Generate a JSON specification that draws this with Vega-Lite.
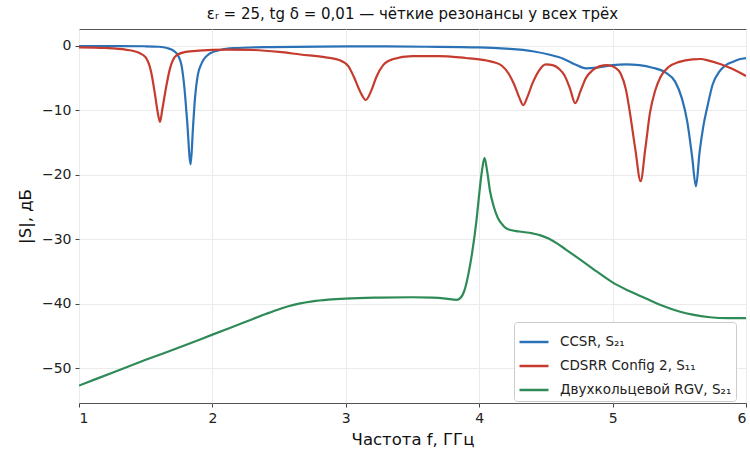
{
  "$schema": "https://vega.github.io/schema/vega-lite/v6.json",
  "width": 667,
  "height": 374,
  "autosize": {"type": "none"},
  "padding": {"left": 79, "top": 29, "right": 4, "bottom": 49},
  "background": "white",
  "title": {"text": "εᵣ = 25, tg δ = 0,01 — чёткие резонансы у всех трёх", "font": "DejaVu Sans", "fontSize": 15, "fontWeight": "normal", "color": "#111", "anchor": "middle", "offset": 7},
  "config": {
    "font": "DejaVu Sans",
    "view": {"stroke": "#555", "strokeWidth": 1},
    "axis": {"domain": false, "grid": true, "gridColor": "#ebebeb", "gridWidth": 1, "tickColor": "#444", "tickSize": 4, "labelFont": "DejaVu Sans", "labelFontSize": 14, "labelColor": "#222", "titleFont": "DejaVu Sans", "titleFontSize": 16.5, "titleFontWeight": "normal", "titleColor": "#111", "labelPadding": 4}
  },
  "data": {"values": [
    {"f": 1.0, "db": -0.05, "s": "CCSR, S₂₁"},
    {"f": 1.3, "db": -0.05, "s": "CCSR, S₂₁"},
    {"f": 1.5, "db": -0.08, "s": "CCSR, S₂₁"},
    {"f": 1.6, "db": -0.15, "s": "CCSR, S₂₁"},
    {"f": 1.66, "db": -0.35, "s": "CCSR, S₂₁"},
    {"f": 1.71, "db": -0.8, "s": "CCSR, S₂₁"},
    {"f": 1.745, "db": -1.6, "s": "CCSR, S₂₁"},
    {"f": 1.77, "db": -3.2, "s": "CCSR, S₂₁"},
    {"f": 1.79, "db": -6.5, "s": "CCSR, S₂₁"},
    {"f": 1.81, "db": -11.5, "s": "CCSR, S₂₁"},
    {"f": 1.837, "db": -18.4, "s": "CCSR, S₂₁"},
    {"f": 1.855, "db": -12.5, "s": "CCSR, S₂₁"},
    {"f": 1.87, "db": -8, "s": "CCSR, S₂₁"},
    {"f": 1.89, "db": -4.6, "s": "CCSR, S₂₁"},
    {"f": 1.92, "db": -2.7, "s": "CCSR, S₂₁"},
    {"f": 1.98, "db": -1.2, "s": "CCSR, S₂₁"},
    {"f": 2.06, "db": -0.65, "s": "CCSR, S₂₁"},
    {"f": 2.16, "db": -0.38, "s": "CCSR, S₂₁"},
    {"f": 2.4, "db": -0.2, "s": "CCSR, S₂₁"},
    {"f": 2.8, "db": -0.12, "s": "CCSR, S₂₁"},
    {"f": 3.2, "db": -0.1, "s": "CCSR, S₂₁"},
    {"f": 3.6, "db": -0.15, "s": "CCSR, S₂₁"},
    {"f": 4.0, "db": -0.25, "s": "CCSR, S₂₁"},
    {"f": 4.2, "db": -0.45, "s": "CCSR, S₂₁"},
    {"f": 4.4, "db": -0.85, "s": "CCSR, S₂₁"},
    {"f": 4.53, "db": -1.4, "s": "CCSR, S₂₁"},
    {"f": 4.63, "db": -2.0, "s": "CCSR, S₂₁"},
    {"f": 4.72, "db": -2.9, "s": "CCSR, S₂₁"},
    {"f": 4.8, "db": -3.5, "s": "CCSR, S₂₁"},
    {"f": 4.88, "db": -3.4, "s": "CCSR, S₂₁"},
    {"f": 5.0, "db": -3.0, "s": "CCSR, S₂₁"},
    {"f": 5.1, "db": -2.9, "s": "CCSR, S₂₁"},
    {"f": 5.2, "db": -3.0, "s": "CCSR, S₂₁"},
    {"f": 5.3, "db": -3.4, "s": "CCSR, S₂₁"},
    {"f": 5.4, "db": -4.2, "s": "CCSR, S₂₁"},
    {"f": 5.47, "db": -5.6, "s": "CCSR, S₂₁"},
    {"f": 5.52, "db": -8.2, "s": "CCSR, S₂₁"},
    {"f": 5.56, "db": -11.8, "s": "CCSR, S₂₁"},
    {"f": 5.595, "db": -17, "s": "CCSR, S₂₁"},
    {"f": 5.625, "db": -21.8, "s": "CCSR, S₂₁"},
    {"f": 5.652, "db": -16.5, "s": "CCSR, S₂₁"},
    {"f": 5.68, "db": -12.5, "s": "CCSR, S₂₁"},
    {"f": 5.71, "db": -9.5, "s": "CCSR, S₂₁"},
    {"f": 5.75, "db": -6, "s": "CCSR, S₂₁"},
    {"f": 5.8, "db": -4, "s": "CCSR, S₂₁"},
    {"f": 5.85, "db": -3, "s": "CCSR, S₂₁"},
    {"f": 5.9, "db": -2.5, "s": "CCSR, S₂₁"},
    {"f": 5.95, "db": -2.1, "s": "CCSR, S₂₁"},
    {"f": 6.0, "db": -1.9, "s": "CCSR, S₂₁"},

    {"f": 1.0, "db": -0.25, "s": "CDSRR Config 2, S₁₁"},
    {"f": 1.2, "db": -0.35, "s": "CDSRR Config 2, S₁₁"},
    {"f": 1.35, "db": -0.6, "s": "CDSRR Config 2, S₁₁"},
    {"f": 1.45, "db": -1.1, "s": "CDSRR Config 2, S₁₁"},
    {"f": 1.5, "db": -1.8, "s": "CDSRR Config 2, S₁₁"},
    {"f": 1.54, "db": -4.0, "s": "CDSRR Config 2, S₁₁"},
    {"f": 1.57, "db": -7.6, "s": "CDSRR Config 2, S₁₁"},
    {"f": 1.59, "db": -10.3, "s": "CDSRR Config 2, S₁₁"},
    {"f": 1.607, "db": -11.8, "s": "CDSRR Config 2, S₁₁"},
    {"f": 1.625, "db": -9.8, "s": "CDSRR Config 2, S₁₁"},
    {"f": 1.655, "db": -6.2, "s": "CDSRR Config 2, S₁₁"},
    {"f": 1.68, "db": -3.7, "s": "CDSRR Config 2, S₁₁"},
    {"f": 1.73, "db": -1.5, "s": "CDSRR Config 2, S₁₁"},
    {"f": 1.8, "db": -0.95, "s": "CDSRR Config 2, S₁₁"},
    {"f": 1.9, "db": -0.75, "s": "CDSRR Config 2, S₁₁"},
    {"f": 2.1, "db": -0.6, "s": "CDSRR Config 2, S₁₁"},
    {"f": 2.3, "db": -0.65, "s": "CDSRR Config 2, S₁₁"},
    {"f": 2.5, "db": -0.95, "s": "CDSRR Config 2, S₁₁"},
    {"f": 2.66, "db": -1.35, "s": "CDSRR Config 2, S₁₁"},
    {"f": 2.85, "db": -1.8, "s": "CDSRR Config 2, S₁₁"},
    {"f": 2.95, "db": -2.2, "s": "CDSRR Config 2, S₁₁"},
    {"f": 3.02, "db": -3.2, "s": "CDSRR Config 2, S₁₁"},
    {"f": 3.06, "db": -4.8, "s": "CDSRR Config 2, S₁₁"},
    {"f": 3.11, "db": -7.2, "s": "CDSRR Config 2, S₁₁"},
    {"f": 3.15, "db": -8.4, "s": "CDSRR Config 2, S₁₁"},
    {"f": 3.19, "db": -7.0, "s": "CDSRR Config 2, S₁₁"},
    {"f": 3.23, "db": -4.8, "s": "CDSRR Config 2, S₁₁"},
    {"f": 3.28, "db": -3.0, "s": "CDSRR Config 2, S₁₁"},
    {"f": 3.35, "db": -2.1, "s": "CDSRR Config 2, S₁₁"},
    {"f": 3.5, "db": -1.6, "s": "CDSRR Config 2, S₁₁"},
    {"f": 3.7, "db": -1.6, "s": "CDSRR Config 2, S₁₁"},
    {"f": 3.9, "db": -1.9, "s": "CDSRR Config 2, S₁₁"},
    {"f": 4.0, "db": -2.1, "s": "CDSRR Config 2, S₁₁"},
    {"f": 4.1, "db": -2.5, "s": "CDSRR Config 2, S₁₁"},
    {"f": 4.17, "db": -3.1, "s": "CDSRR Config 2, S₁₁"},
    {"f": 4.22, "db": -4.3, "s": "CDSRR Config 2, S₁₁"},
    {"f": 4.26, "db": -5.9, "s": "CDSRR Config 2, S₁₁"},
    {"f": 4.3, "db": -8.0, "s": "CDSRR Config 2, S₁₁"},
    {"f": 4.33, "db": -9.2, "s": "CDSRR Config 2, S₁₁"},
    {"f": 4.36, "db": -8.0, "s": "CDSRR Config 2, S₁₁"},
    {"f": 4.4, "db": -5.8, "s": "CDSRR Config 2, S₁₁"},
    {"f": 4.45, "db": -3.8, "s": "CDSRR Config 2, S₁₁"},
    {"f": 4.5, "db": -2.9, "s": "CDSRR Config 2, S₁₁"},
    {"f": 4.55, "db": -3.0, "s": "CDSRR Config 2, S₁₁"},
    {"f": 4.6, "db": -3.6, "s": "CDSRR Config 2, S₁₁"},
    {"f": 4.64, "db": -4.6, "s": "CDSRR Config 2, S₁₁"},
    {"f": 4.68, "db": -6.6, "s": "CDSRR Config 2, S₁₁"},
    {"f": 4.72, "db": -8.9, "s": "CDSRR Config 2, S₁₁"},
    {"f": 4.76, "db": -7.0, "s": "CDSRR Config 2, S₁₁"},
    {"f": 4.8, "db": -5.0, "s": "CDSRR Config 2, S₁₁"},
    {"f": 4.85, "db": -3.8, "s": "CDSRR Config 2, S₁₁"},
    {"f": 4.9, "db": -3.2, "s": "CDSRR Config 2, S₁₁"},
    {"f": 4.96, "db": -3.0, "s": "CDSRR Config 2, S₁₁"},
    {"f": 5.02, "db": -3.4, "s": "CDSRR Config 2, S₁₁"},
    {"f": 5.06, "db": -4.3, "s": "CDSRR Config 2, S₁₁"},
    {"f": 5.1, "db": -6.8, "s": "CDSRR Config 2, S₁₁"},
    {"f": 5.13, "db": -10.4, "s": "CDSRR Config 2, S₁₁"},
    {"f": 5.17, "db": -16.0, "s": "CDSRR Config 2, S₁₁"},
    {"f": 5.21, "db": -21.0, "s": "CDSRR Config 2, S₁₁"},
    {"f": 5.245, "db": -16.0, "s": "CDSRR Config 2, S₁₁"},
    {"f": 5.28, "db": -10.4, "s": "CDSRR Config 2, S₁₁"},
    {"f": 5.32, "db": -6.9, "s": "CDSRR Config 2, S₁₁"},
    {"f": 5.36, "db": -4.8, "s": "CDSRR Config 2, S₁₁"},
    {"f": 5.42, "db": -3.3, "s": "CDSRR Config 2, S₁₁"},
    {"f": 5.5, "db": -2.5, "s": "CDSRR Config 2, S₁₁"},
    {"f": 5.6, "db": -2.1, "s": "CDSRR Config 2, S₁₁"},
    {"f": 5.66, "db": -2.05, "s": "CDSRR Config 2, S₁₁"},
    {"f": 5.72, "db": -2.3, "s": "CDSRR Config 2, S₁₁"},
    {"f": 5.8, "db": -2.8, "s": "CDSRR Config 2, S₁₁"},
    {"f": 5.9, "db": -3.6, "s": "CDSRR Config 2, S₁₁"},
    {"f": 6.0, "db": -4.7, "s": "CDSRR Config 2, S₁₁"},

    {"f": 1.0, "db": -52.7, "s": "Двухкольцевой RGV, S₂₁"},
    {"f": 1.25, "db": -50.7, "s": "Двухкольцевой RGV, S₂₁"},
    {"f": 1.5, "db": -48.7, "s": "Двухкольцевой RGV, S₂₁"},
    {"f": 1.75, "db": -46.8, "s": "Двухкольцевой RGV, S₂₁"},
    {"f": 2.0, "db": -44.8, "s": "Двухкольцевой RGV, S₂₁"},
    {"f": 2.25, "db": -42.8, "s": "Двухкольцевой RGV, S₂₁"},
    {"f": 2.4, "db": -41.6, "s": "Двухкольцевой RGV, S₂₁"},
    {"f": 2.5, "db": -40.85, "s": "Двухкольцевой RGV, S₂₁"},
    {"f": 2.57, "db": -40.4, "s": "Двухкольцевой RGV, S₂₁"},
    {"f": 2.65, "db": -40.0, "s": "Двухкольцевой RGV, S₂₁"},
    {"f": 2.75, "db": -39.65, "s": "Двухкольцевой RGV, S₂₁"},
    {"f": 2.87, "db": -39.38, "s": "Двухкольцевой RGV, S₂₁"},
    {"f": 3.0, "db": -39.2, "s": "Двухкольцевой RGV, S₂₁"},
    {"f": 3.25, "db": -39.05, "s": "Двухкольцевой RGV, S₂₁"},
    {"f": 3.5, "db": -39.0, "s": "Двухкольцевой RGV, S₂₁"},
    {"f": 3.65, "db": -39.05, "s": "Двухкольцевой RGV, S₂₁"},
    {"f": 3.75, "db": -39.2, "s": "Двухкольцевой RGV, S₂₁"},
    {"f": 3.83, "db": -39.4, "s": "Двухкольцевой RGV, S₂₁"},
    {"f": 3.86, "db": -39.1, "s": "Двухкольцевой RGV, S₂₁"},
    {"f": 3.89, "db": -37.9, "s": "Двухкольцевой RGV, S₂₁"},
    {"f": 3.92, "db": -35.3, "s": "Двухкольцевой RGV, S₂₁"},
    {"f": 3.95, "db": -31.7, "s": "Двухкольцевой RGV, S₂₁"},
    {"f": 3.98, "db": -27.0, "s": "Двухкольцевой RGV, S₂₁"},
    {"f": 4.0, "db": -23.0, "s": "Двухкольцевой RGV, S₂₁"},
    {"f": 4.02, "db": -19.5, "s": "Двухкольцевой RGV, S₂₁"},
    {"f": 4.04, "db": -17.4, "s": "Двухкольцевой RGV, S₂₁"},
    {"f": 4.06, "db": -19.5, "s": "Двухкольцевой RGV, S₂₁"},
    {"f": 4.08, "db": -22.4, "s": "Двухкольцевой RGV, S₂₁"},
    {"f": 4.11, "db": -25.0, "s": "Двухкольцевой RGV, S₂₁"},
    {"f": 4.14, "db": -26.7, "s": "Двухкольцевой RGV, S₂₁"},
    {"f": 4.18, "db": -27.9, "s": "Двухкольцевой RGV, S₂₁"},
    {"f": 4.22, "db": -28.5, "s": "Двухкольцевой RGV, S₂₁"},
    {"f": 4.3, "db": -28.8, "s": "Двухкольцевой RGV, S₂₁"},
    {"f": 4.4, "db": -29.1, "s": "Двухкольцевой RGV, S₂₁"},
    {"f": 4.46, "db": -29.4, "s": "Двухкольцевой RGV, S₂₁"},
    {"f": 4.52, "db": -29.9, "s": "Двухкольцевой RGV, S₂₁"},
    {"f": 4.58, "db": -30.6, "s": "Двухкольцевой RGV, S₂₁"},
    {"f": 4.65, "db": -31.6, "s": "Двухкольцевой RGV, S₂₁"},
    {"f": 4.76, "db": -33.2, "s": "Двухкольцевой RGV, S₂₁"},
    {"f": 4.88, "db": -35.0, "s": "Двухкольцевой RGV, S₂₁"},
    {"f": 5.0, "db": -36.7, "s": "Двухкольцевой RGV, S₂₁"},
    {"f": 5.12, "db": -38.0, "s": "Двухкольцевой RGV, S₂₁"},
    {"f": 5.25, "db": -39.2, "s": "Двухкольцевой RGV, S₂₁"},
    {"f": 5.36, "db": -40.2, "s": "Двухкольцевой RGV, S₂₁"},
    {"f": 5.5, "db": -41.2, "s": "Двухкольцевой RGV, S₂₁"},
    {"f": 5.6, "db": -41.7, "s": "Двухкольцевой RGV, S₂₁"},
    {"f": 5.73, "db": -42.1, "s": "Двухкольцевой RGV, S₂₁"},
    {"f": 5.86, "db": -42.25, "s": "Двухкольцевой RGV, S₂₁"},
    {"f": 6.0, "db": -42.25, "s": "Двухкольцевой RGV, S₂₁"}
  ]},
  "mark": {"type": "line", "strokeWidth": 2.2, "interpolate": "monotone", "clip": true},
  "encoding": {
    "x": {"field": "f", "type": "quantitative", "scale": {"domain": [1, 6], "nice": false}, "axis": {"values": [1, 2, 3, 4, 5, 6], "title": "Частота f, ГГц", "titlePadding": 6}},
    "y": {"field": "db", "type": "quantitative", "scale": {"domain": [-55.4, 2.6], "nice": false, "zero": false}, "axis": {"values": [-50, -40, -30, -20, -10, 0], "title": "|S|, дБ", "titlePadding": 8}},
    "color": {"field": "s", "type": "nominal",
      "scale": {"domain": ["CCSR, S₂₁", "CDSRR Config 2, S₁₁", "Двухкольцевой RGV, S₂₁"], "range": ["#2a72b5", "#c53b2e", "#2e8b57"]},
      "legend": {"title": null, "orient": "none", "legendX": 435, "legendY": 293, "fillColor": "white", "strokeColor": "#cccccc", "cornerRadius": 3, "padding": 4, "symbolType": "stroke", "symbolSize": 841, "symbolStrokeWidth": 2.5, "labelFontSize": 13.5, "labelColor": "#222", "labelFont": "DejaVu Sans", "labelLimit": 400, "rowPadding": 1, "labelOffset": 10}
    }
  }
}
